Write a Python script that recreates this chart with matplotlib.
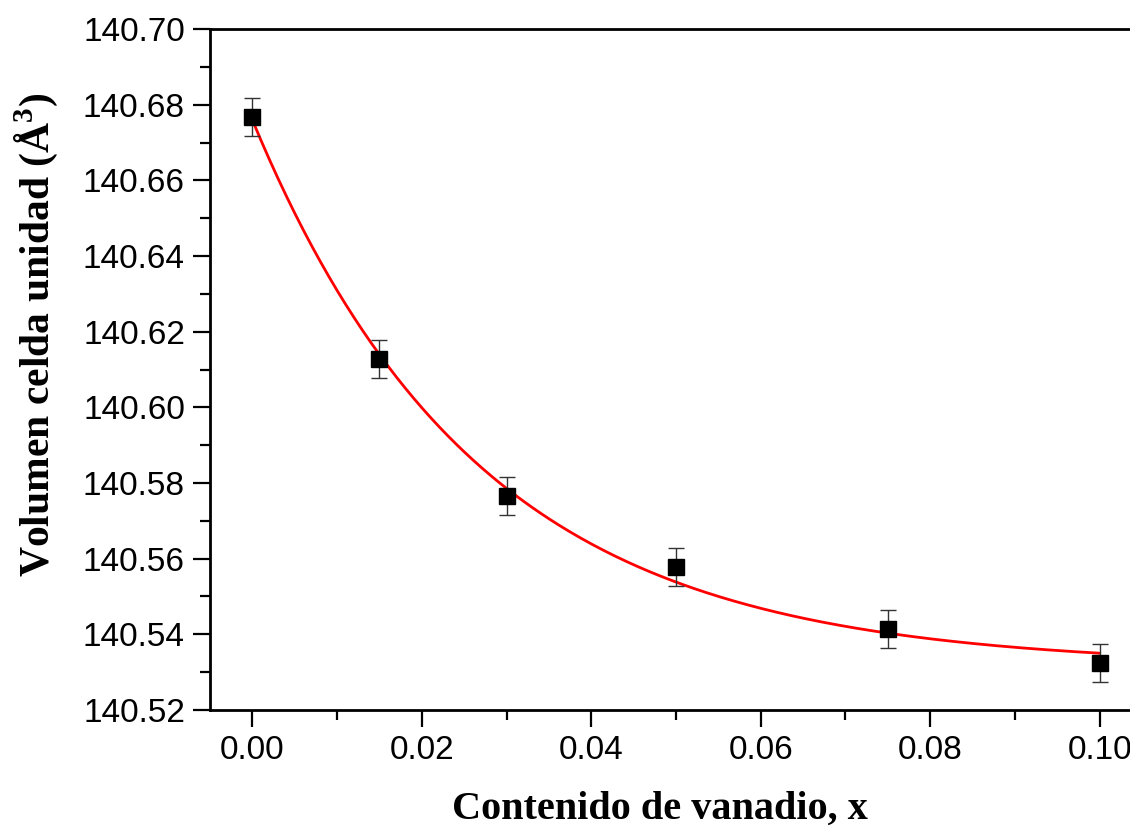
import numpy as np
import matplotlib.pyplot as plt

plt.rcParams['mathtext.fontset'] = 'custom'
plt.rcParams['mathtext.rm'] = 'Liberation Serif:bold'
plt.rcParams['mathtext.bf'] = 'Liberation Serif:bold'

# datos: contenido de vanadio vs volumen de celda
x = np.array([0.0, 0.015, 0.03, 0.05, 0.075, 0.10])
vol = np.array([140.6767, 140.6128, 140.5766, 140.5578, 140.5414, 140.5324])
err = np.array([0.005, 0.005, 0.005, 0.005, 0.005, 0.005])

xticks = [0.00, 0.02, 0.04, 0.06, 0.08, 0.10]
yticks = [140.52, 140.54, 140.56, 140.58, 140.60, 140.62, 140.64, 140.66, 140.68, 140.70]

# ajuste exponencial y = y0 + A*exp(-x/t), busqueda de t + minimos cuadrados
best = None
for t in np.linspace(0.005, 0.1, 2000):
    M = np.column_stack([np.ones_like(x), np.exp(-x / t)])
    coef, res, _, _ = np.linalg.lstsq(M, vol, rcond=None)
    r = np.sum((M @ coef - vol) ** 2)
    if best is None or r < best[0]:
        best = (r, t, coef)
_, t_fit, (y0, A) = best
xf = np.linspace(0, 0.10, 300)
yf = y0 + A * np.exp(-xf / t_fit)

fig = plt.figure(figsize=(11.3, 8.3), dpi=100)
ax = fig.add_axes([0.1858, 0.1446, 0.8248, 0.8204])

ax.plot(xf, yf, color='red', lw=2, zorder=2)
ax.errorbar(x, vol, yerr=err, fmt='s', color='black', ms=11,
            ecolor='#333333', elinewidth=1, capsize=6, capthick=1, zorder=3)

ax.set_xlim(-0.005, 0.105)
ax.set_ylim(140.52, 140.70)
ax.set_xticks(xticks)
ax.set_xticklabels(['%.2f' % v for v in xticks])
ax.set_yticks(yticks)
ax.set_yticklabels(['%.2f' % v for v in yticks])
ax.set_xticks(np.arange(0.01, 0.10, 0.02), minor=True)
ax.set_yticks(np.arange(140.53, 140.70, 0.02), minor=True)

ax.tick_params(which='major', direction='out', length=12, width=1.6,
               labelsize=24, pad=6, top=False, right=False)
ax.tick_params(which='minor', direction='out', length=7, width=1.6,
               top=False, right=False)
for lab in ax.get_xticklabels() + ax.get_yticklabels():
    lab.set_family('Liberation Sans')
for s in ax.spines.values():
    s.set_linewidth(2)

ax.set_xlabel('Contenido de vanadio, x', family='Liberation Serif',
              weight='bold', fontsize=29)
ax.set_ylabel('Volumen celda unidad (Å$^{3}$)', family='Liberation Serif',
              weight='bold', fontsize=30)
ax.xaxis.set_label_coords(0.483, -0.119)
ax.yaxis.set_label_coords(-0.161, 0.551)

plt.savefig('out.png', dpi=100)
